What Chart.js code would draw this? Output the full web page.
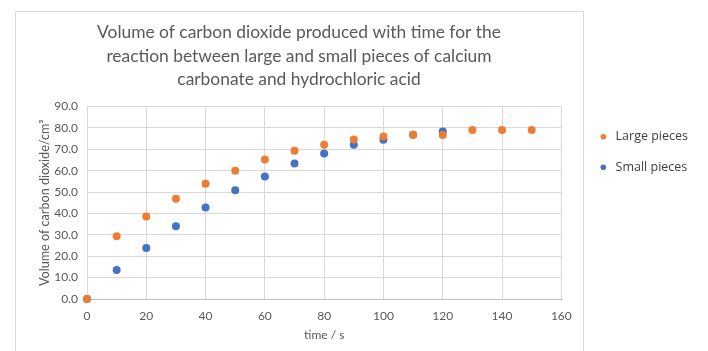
<!DOCTYPE html>
<html>
<head>
<meta charset="utf-8">
<script src="https://cdn.jsdelivr.net/npm/chart.js@4/dist/chart.umd.min.js"></script>
<style>
  html, body { margin: 0; padding: 0; background: #fff; }
  #wrap { width: 708px; height: 351px; }
</style>
</head>
<body>
<div id="wrap"><canvas id="chart"></canvas></div>
<script>
const times = [0, 10, 20, 30, 40, 50, 60, 70, 80, 90, 100, 110, 120, 130, 140, 150]
const largePieces = [0, 29.3, 38.6, 46.9, 53.9, 59.9, 65.2, 69.3, 72.1, 74.6, 76.0, 76.8, 76.7, 79.0, 79.0, 79.0]
const smallTimes = [0, 10, 20, 30, 40, 50, 60, 70, 80, 90, 100, 110, 120]
const smallPieces = [0, 13.6, 23.8, 34.0, 42.8, 50.8, 57.3, 63.3, 68.0, 72.1, 74.4, 76.8, 78.3]
const yTicks = [0, 10, 20, 30, 40, 50, 60, 70, 80, 90]
const xTicks = [0, 20, 40, 60, 80, 100, 120, 140, 160]

const font = "Lato, 'Liberation Sans', sans-serif"
const grey = "#595959"

function toPoints(xs, ys) {
    return xs.map((x, i) => ({ x: x, y: ys[i] }))
}

// light frame around the chart like the original office chart,
// title centred on that frame and legend pushed a bit to the right of it
const framePlugin = {
    id: "frame",
    afterLayout(chart) {
        const t = chart.titleBlock
        t.left = 15
        t.right = 583
        t.width = t.right - t.left
        const l = chart.legend
        const w = l.width
        l.left = chart.chartArea.right + 18
        l.right = l.left + w
        l.top += 6
        l.bottom += 6
    },
    beforeDraw(chart) {
        const c = chart.ctx
        c.save()
        c.strokeStyle = "#d9d9d9"
        c.lineWidth = 1
        c.beginPath()
        c.moveTo(15.5, 351)
        c.lineTo(15.5, 11.5)
        c.lineTo(583.5, 11.5)
        c.lineTo(583.5, 351)
        c.stroke()
        c.restore()
    }
}

const ctx = document.getElementById("chart")
new Chart(ctx, {
    type: "scatter",
    data: {
        datasets: [{
            label: "Large pieces",
            data: toPoints(times, largePieces),
            backgroundColor: "#ED7D31",
            borderWidth: 0,
            pointRadius: 4,
            clip: false,
            order: 1
        }, {
            label: "Small pieces",
            data: toPoints(smallTimes, smallPieces),
            backgroundColor: "#4472C4",
            borderWidth: 0,
            pointRadius: 4,
            clip: false,
            order: 2
        }]
    },
    options: {
        responsive: true,
        maintainAspectRatio: false,
        animation: false,
        layout: { padding: { left: 37, right: 28, top: 8, bottom: 9 } },
        plugins: {
            title: {
                display: true,
                text: ["Volume of carbon dioxide produced with time for the",
                       "reaction between large and small pieces of calcium",
                       "carbonate and hydrochloric acid"],
                color: grey,
                font: { family: font, size: 17.4, weight: "normal", lineHeight: 1.35 },
                padding: { top: 13, bottom: 15 }
            },
            legend: {
                position: "right",
                align: "start",
                fullSize: false,
                labels: {
                    usePointStyle: true,
                    pointStyle: "circle",
                    boxWidth: 12,
                    boxHeight: 4,
                    padding: 18,
                    color: "#404040",
                    font: { family: "'Open Sans', sans-serif", size: 12.5 }
                }
            },
            tooltip: { enabled: false }
        },
        scales: {
            x: {
                type: "linear",
                min: 0,
                max: 160,
                afterBuildTicks: axis => { axis.ticks = xTicks.map(v => ({ value: v })) },
                afterFit: axis => { axis.height = 43 },
                grid: { color: "#d9d9d9", drawTicks: false },
                border: { color: "#bfbfbf" },
                ticks: { color: grey, padding: 10, font: { family: font, size: 12 } },
                title: { display: true, text: "time / s", color: grey, padding: { top: 4, bottom: 0 },
                         font: { family: font, size: 12 } }
            },
            y: {
                min: 0,
                max: 90,
                afterBuildTicks: axis => { axis.ticks = yTicks.map(v => ({ value: v })) },
                afterFit: axis => { axis.width = 50 },
                grid: { color: "#d9d9d9", drawTicks: false },
                border: { display: false },
                ticks: { color: grey, padding: 9, font: { family: font, size: 12 },
                         callback: v => v.toFixed(1) },
                title: { display: true, text: "Volume of carbon dioxide/cm³", color: grey,
                         padding: { top: 0, bottom: 2 }, font: { family: font, size: 12.6 } }
            }
        }
    },
    plugins: [framePlugin]
})
</script>
</body>
</html>
